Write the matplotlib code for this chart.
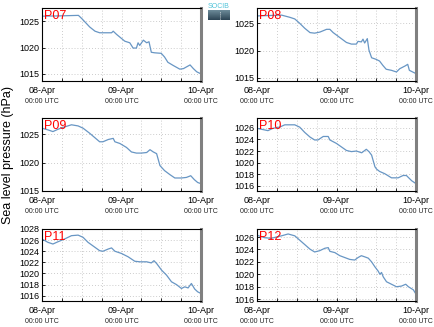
import matplotlib
matplotlib.use("Agg")
import matplotlib.pyplot as plt
import numpy as np
from matplotlib.ticker import MultipleLocator, FixedLocator

plt.rcParams['font.family'] = ['Liberation Sans', 'DejaVu Sans']

# ---- data (hours since 08-Apr 00:00 UTC, sea level pressure hPa) ----
x_p07 = [0, 5, 11, 12, 14.4, 16, 17.4, 21, 21.5, 22.5, 25, 26.5, 27.5, 28.5, 29, 29.5, 30.6, 31.6, 32.3, 33, 34, 36, 37, 38, 39.6, 41.6, 42.7, 44.7, 45.7, 46.7, 48]
y_p07 = [1025.95, 1026.0, 1026.1, 1025.5, 1023.9, 1023.1, 1022.8, 1022.8, 1023.1, 1022.5, 1021.2, 1020.9, 1019.9, 1019.9, 1020.9, 1020.4, 1021.4, 1020.9, 1021.1, 1019.1, 1019.0, 1018.9, 1018.2, 1017.2, 1016.6, 1015.9, 1016.0, 1016.7, 1016.0, 1015.4, 1015.0]

x_p08 = [0, 7.4, 9.9, 11.4, 12.9, 14.4, 16, 17.4, 19, 21, 22, 23, 25, 27, 28.5, 30, 30.5, 31.5, 32, 32.5, 33.3, 33.8, 34.6, 36, 37, 38, 39, 40.6, 42.1, 43.1, 44.7, 45.5, 46, 47, 48]
y_p08 = [1026.35, 1026.5, 1026.1, 1025.8, 1025.0, 1024.1, 1023.3, 1023.2, 1023.4, 1023.9, 1023.9, 1023.3, 1022.4, 1021.5, 1021.2, 1021.2, 1021.7, 1021.6, 1022.1, 1021.4, 1022.2, 1020.1, 1018.7, 1018.4, 1018.1, 1017.3, 1016.6, 1016.4, 1016.1, 1016.7, 1017.2, 1017.5, 1016.4, 1016.1, 1015.8]

x_p09 = [0, 1.8, 3.3, 4.8, 6.4, 8.9, 10.9, 12.4, 14.4, 16, 17.4, 18.4, 20, 21.5, 22, 23.5, 25.5, 27, 28.5, 30, 31.6, 32.6, 33.6, 34.6, 35.6, 37, 38.6, 40.1, 42.1, 43.6, 44.9, 46, 47, 48]
y_p09 = [1026.1, 1025.8, 1025.5, 1025.9, 1026.25, 1026.7, 1026.5, 1026.1, 1025.2, 1024.4, 1023.7, 1023.7, 1024.1, 1024.3, 1023.7, 1023.4, 1022.7, 1021.9, 1021.7, 1021.7, 1021.8, 1022.3, 1021.9, 1021.6, 1019.5, 1018.6, 1017.9, 1017.3, 1017.3, 1017.4, 1017.7, 1017.0, 1016.5, 1016.3]

x_p10 = [0, 3.3, 4.8, 6.8, 8.4, 11.4, 12.9, 14.4, 16, 17.4, 18.4, 20, 21.5, 22, 24, 25.5, 27, 28.5, 30, 31.6, 33, 33.8, 34.6, 35.6, 36.1, 37, 38.6, 40.6, 42.6, 44.1, 45.1, 46.7, 48]
y_p10 = [1025.9, 1025.5, 1025.9, 1026.1, 1026.5, 1026.5, 1026.1, 1025.2, 1024.4, 1023.9, 1023.9, 1024.5, 1024.5, 1023.9, 1023.3, 1022.7, 1022.1, 1021.9, 1022.0, 1021.7, 1022.3, 1021.9, 1021.3, 1019.3, 1018.9, 1018.5, 1018.1, 1017.4, 1017.4, 1017.8, 1017.8, 1016.9, 1016.4]

x_p11 = [0, 1.8, 3.3, 4.8, 6.8, 8.9, 10.9, 12.4, 13.9, 16, 17.4, 18.4, 20, 21, 22, 24, 26, 28, 29.6, 31.6, 33, 33.8, 34.6, 36.1, 37.6, 39.1, 40.6, 42.1, 43.1, 44.1, 45.1, 46.1, 47, 48]
y_p11 = [1026.2, 1025.6, 1025.3, 1025.7, 1026.2, 1026.8, 1026.9, 1026.5, 1025.6, 1024.7, 1024.1, 1024.0, 1024.4, 1024.6, 1024.0, 1023.6, 1023.0, 1022.2, 1022.1, 1022.1, 1021.9, 1022.3, 1021.8, 1020.6, 1019.7, 1018.5, 1018.0, 1017.3, 1017.6, 1017.4, 1018.2, 1017.2, 1016.7, 1016.4]

x_p12 = [0, 2.3, 4.3, 5.8, 7.4, 9.4, 11.4, 12.9, 14.4, 16, 17.4, 18.9, 20.5, 21.5, 22, 23.5, 25, 26.5, 28, 29.5, 30.5, 31.5, 32.6, 33.6, 34.6, 35.6, 36.6, 37.1, 37.6, 38.1, 39.1, 40.6, 42.1, 43.6, 44.9, 45.7, 47.2, 48]
y_p12 = [1026.3, 1025.9, 1025.8, 1026.0, 1026.2, 1026.5, 1026.2, 1025.5, 1024.8, 1024.05, 1023.6, 1023.8, 1024.2, 1024.3, 1023.7, 1023.5, 1023.0, 1022.7, 1022.4, 1022.3, 1022.7, 1023.0, 1022.8, 1022.6, 1022.0, 1021.2, 1020.5, 1020.0, 1020.3, 1019.6, 1018.8, 1018.4, 1018.0, 1018.1, 1018.4, 1018.0, 1017.5, 1016.8]

station_names = ["P07", "P08", "P09", "P10", "P11", "P12"]
tick_dates = ["08-Apr", "09-Apr", "10-Apr"]
tick_times = ["00:00 UTC", "00:00 UTC", "00:00 UTC"]
tick_hours = [0, 24, 48]

series_x = [x_p07, x_p08, x_p09, x_p10, x_p11, x_p12]
series_y = [y_p07, y_p08, y_p09, y_p10, y_p11, y_p12]
ylims = [(1013.65, 1027.5), (1014.45, 1027.8), (1015.0, 1027.9),
         (1015.14, 1027.67), (1015.05, 1028.0), (1015.7, 1027.3)]
ysteps = [5, 5, 5, 2, 2, 2]

W, H = 435, 327
fig = plt.figure(figsize=(W / 100, H / 100), dpi=100)

lefts = [42, 257]
rows = [(8, 81), (118, 191), (229, 301)]
line_color = "#6896c4"

for i in range(6):
    r, c = divmod(i, 2)
    top, bot = rows[r]
    ax = fig.add_axes([lefts[c] / W, 1 - bot / H, 159 / W, (bot - top) / H])
    ax.plot(series_x[i], series_y[i], color=line_color, lw=0.9)
    ax.set_xlim(0, 48)
    ax.set_ylim(*ylims[i])
    ax.yaxis.set_major_locator(MultipleLocator(ysteps[i]))
    ax.xaxis.set_major_locator(FixedLocator(tick_hours))
    ax.xaxis.set_minor_locator(MultipleLocator(6))
    ax.set_xticklabels(tick_dates, fontsize=6.5)
    ax.tick_params(axis='x', which='both', direction='in', length=2, pad=3.5, width=0.6)
    ax.tick_params(axis='y', which='both', direction='in', length=2, pad=2, labelsize=6.5, width=0.6)
    ax.grid(True, which='both', color='#bbbbbb', linestyle=(0, (1, 2.5)), linewidth=0.6)
    for h, t in zip(tick_hours, tick_times):
        ax.annotate(t, xy=(h, 0), xycoords=('data', 'axes fraction'),
                    xytext=(0, -15), textcoords='offset points',
                    ha='center', va='center', fontsize=5, color='#222222')
    for s in ['top', 'left', 'bottom']:
        ax.spines[s].set_linewidth(0.8)
        ax.spines[s].set_color('black')
    ax.spines['right'].set_linewidth(2.2)
    ax.spines['right'].set_color('#808080')
    ax.text(0.01, 0.97, station_names[i], transform=ax.transAxes, color='red',
            fontsize=9, ha='left', va='top')

fig.text(8 / W, 1 - 155 / H, "Sea level pressure (hPa)", rotation=90,
         ha='center', va='center', fontsize=9)

# logo
lax = fig.add_axes([208 / W, 1 - 20 / H, 22 / W, 10 / H])
grad = np.linspace(0, 1, 20).reshape(-1, 1)
lax.imshow(grad, aspect='auto', cmap=matplotlib.colors.LinearSegmentedColormap.from_list(
    "lg", ["#6c8a98", "#2e4656"]), extent=[0, 1, 0, 1])
lax.plot([0.55, 0.55], [0.1, 0.9], color='white', lw=0.6, linestyle=(0, (1, 1.5)))
lax.set_axis_off()
fig.text(219 / W, 1 - 6 / H, "SOCIB", color="#4fc3d9", fontsize=5,
         ha='center', va='center')

fig.savefig("out.png", dpi=100)
